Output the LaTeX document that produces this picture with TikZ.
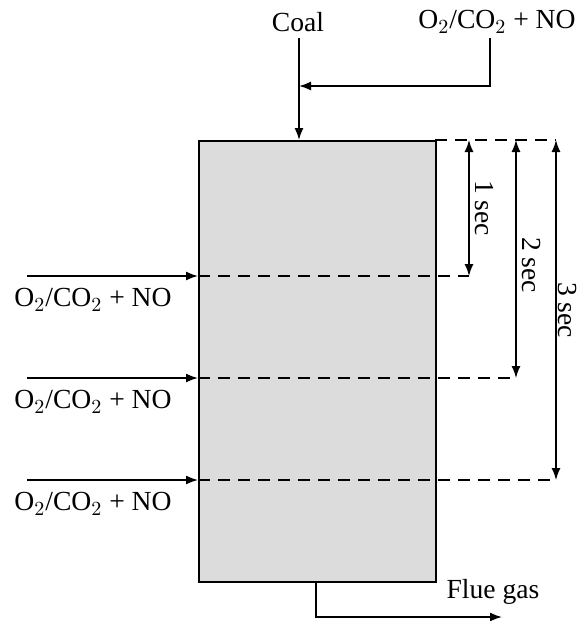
\documentclass[tikz,border=0pt]{standalone}
\usepackage{fontspec}
\setmainfont{Liberation Serif}
\usetikzlibrary{arrows.meta,calc}
\begin{document}
\begin{tikzpicture}[x=0.5pt,y=-0.5pt,
  lbl/.style={inner sep=0pt,font=\fontsize{13.8}{16}\selectfont},
  flow/.style={line width=0.8pt,-{Latex[length=6pt,width=4.5pt]}},
  dim/.style={line width=0.7pt,{Latex[length=6pt,width=4.5pt]}-{Latex[length=6pt,width=4.5pt]}},
  dashline/.style={line width=0.9pt,dash pattern=on 6pt off 4pt},
  gas/.style={lbl}]
\useasboundingbox (0,0) rectangle (578,621);
% reactor
\node[draw,line width=1pt,fill={rgb,255:red,220;green,220;blue,220},minimum width=118.5pt,minimum height=220.5pt,inner sep=0pt,anchor=north west] (box) at (198,140) {};
% top labels
\node[lbl] (coal) at (298,22) {Coal};
\node[lbl] (top) at (497,22) {O$_2$/CO$_2$ + NO};
\coordinate (cin) at (299,140);
\coordinate (join) at (299,86);
\coordinate (tcorner) at (490,86);
\draw[flow] (299,38) -- (cin);
\draw[flow] (490,38) -- (tcorner) -- (join);
% side inlets
\foreach \y/\n in {276/a,378/b,480/c}{
  \coordinate (s\n) at (27,\y);
  \coordinate (e\n) at (198,\y);
  \draw[flow] (s\n) -- (e\n);
}
\node[gas] (la) at (93,300) {O$_2$/CO$_2$ + NO};
\node[gas] (lb) at (93,402) {O$_2$/CO$_2$ + NO};
\node[gas] (lc) at (93,504) {O$_2$/CO$_2$ + NO};
% dashed levels
\coordinate (d0) at (556,140);
\coordinate (d1) at (469,276);
\coordinate (d2) at (516,378);
\coordinate (d3) at (556,480);
\draw[dashline] (435,140) -- (d0);
\draw[dashline] (198,276) -- (d1);
\draw[dashline] (198,378) -- (d2);
\draw[dashline] (198,480) -- (d3);
% dimension arrows
\draw[dim] (469,140) -- (d1);
\draw[dim] (516,140) -- (d2);
\draw[dim] (556,140) -- (d3);
\node[lbl,rotate=-90] (t1) at (484,208) {1 sec};
\node[lbl,rotate=-90] (t2) at (531,265) {2 sec};
\node[lbl,rotate=-90] (t3) at (567,310) {3 sec};
% flue gas
\coordinate (fout) at (316,581);
\coordinate (fcorner) at (316,617);
\coordinate (fend) at (502,617);
\draw[flow] (fout) -- (fcorner) -- (fend);
\node[lbl] (flue) at (493,592) {Flue gas};
\end{tikzpicture}
\end{document}
